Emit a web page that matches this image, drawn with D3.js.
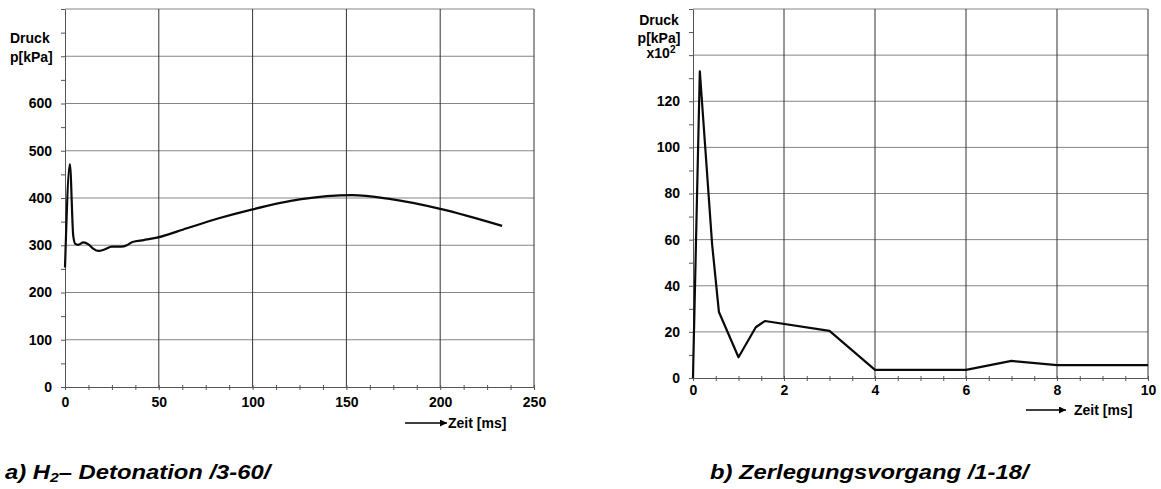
<!DOCTYPE html>
<html>
<head>
<meta charset="utf-8">
<script src="https://cdn.jsdelivr.net/npm/d3@7"></script>
<style>
  body { margin: 0; background: #fff; }
  svg text { font-family: "Liberation Sans", Arial, Helvetica, sans-serif; font-weight: bold; fill: #000; }
</style>
</head>
<body>
<svg id="chart" width="1161" height="489"></svg>
<script>
// ---- Panel a: H2 detonation, pressure in kPa over time in ms ----
const detTime     = [0, 2.6, 4.4, 5.5, 7, 9.8, 12.5, 15, 18, 21, 25, 30, 33, 36, 42, 49, 65, 82, 100, 125, 153, 173, 200, 233];
const detPressure = [253, 472, 320, 303, 301, 306, 302, 293, 288, 291, 297, 297, 300, 307, 311, 316, 336, 357, 376, 397, 406, 398, 377, 341];
const detXTicks   = [0, 50, 100, 150, 200, 250];
const detYTicks   = [0, 100, 200, 300, 400, 500, 600];
const detYGrid    = [100, 200, 300, 400, 500, 600, 700, 800];

// ---- Panel b: decomposition, pressure in kPa x10^2 over time in ms ----
const decTime     = [0, 0.01, 0.15, 0.42, 0.57, 1.0, 1.38, 1.58, 3.0, 4.0, 6.0, 7.0, 8.0, 10.0];
const decPressure = [0, 10, 133, 58, 28.6, 9, 22, 24.7, 20.4, 3.5, 3.5, 7.4, 5.6, 5.6];
const decXTicks   = [0, 2, 4, 6, 8, 10];
const decYTicks   = [0, 20, 40, 60, 80, 100, 120];
const decYGrid    = [20, 40, 60, 80, 100, 120, 140, 160];

const svg = d3.select("#chart");

function drawPanel(p) {
  const x = d3.scaleLinear().domain(p.xDomain).range(p.xRange);
  const y = d3.scaleLinear().domain(p.yDomain).range(p.yRange);
  const g = svg.append("g");

  // horizontal grid lines (lighter)
  g.append("g").selectAll("line").data(p.yGrid).join("line")
    .attr("x1", x(p.xDomain[0])).attr("x2", x(p.xDomain[1]))
    .attr("y1", d => y(d)).attr("y2", d => y(d))
    .attr("stroke", "#858585").attr("stroke-width", 1);

  // vertical grid lines (darker)
  g.append("g").selectAll("line").data(p.xTicks.slice(1)).join("line")
    .attr("x1", d => x(d)).attr("x2", d => x(d))
    .attr("y1", y(p.yDomain[0])).attr("y2", y(p.yDomain[1]))
    .attr("stroke", "#333").attr("stroke-width", 1);

  // minor ticks
  const minorX = d3.range(p.xDomain[0], p.xDomain[1] + 1e-9, p.xMinor);
  const minorY = d3.range(p.yDomain[0], p.yDomain[1] + 1e-9, p.yMinor);
  g.append("g").attr("transform", `translate(0,${y(p.yDomain[0]) - 2})`)
    .call(d3.axisBottom(x).tickValues(minorX).tickSize(5).tickFormat(""))
    .call(a => a.select(".domain").remove())
    .call(a => a.selectAll("line").attr("stroke", "#555"));
  g.append("g").attr("transform", `translate(${x(p.xDomain[0])},0)`)
    .call(d3.axisLeft(y).tickValues(minorY).tickSize(4).tickFormat(""))
    .call(a => a.select(".domain").remove())
    .call(a => a.selectAll("line").attr("stroke", "#555"));

  // axis lines and labels
  g.append("g").attr("transform", `translate(0,${y(p.yDomain[0])})`)
    .call(d3.axisBottom(x).tickValues(p.xTicks).tickSize(0).tickPadding(p.xPad).tickFormat(d3.format("d")))
    .call(a => a.select(".domain").attr("stroke", "#555"))
    .call(a => a.selectAll("text").attr("font-size", 14).attr("fill", "#000"));
  g.append("g").attr("transform", `translate(${x(p.xDomain[0])},0)`)
    .call(d3.axisLeft(y).tickValues(p.yTicks).tickSize(0).tickPadding(13).tickFormat(d3.format("d")))
    .call(a => a.select(".domain").attr("stroke", "#555"))
    .call(a => a.selectAll("text").attr("font-size", 14).attr("fill", "#000"));

  // pressure curve
  const line = d3.line().x(d => x(d[0])).y(d => y(d[1])).curve(p.curve);
  g.append("path")
    .datum(d3.zip(p.t, p.v))
    .attr("d", line)
    .attr("fill", "none").attr("stroke", "#0a0a0a")
    .attr("stroke-width", 2.2).attr("stroke-linejoin", "round");

  return { x, y };
}

drawPanel({
  t: detTime, v: detPressure,
  xDomain: [0, 250], xRange: [65, 534],
  yDomain: [0, 800], yRange: [387, 9],
  xTicks: detXTicks, yTicks: detYTicks, yGrid: detYGrid,
  xMinor: 12.5, yMinor: 50, xPad: 10,
  curve: d3.curveMonotoneX
});

drawPanel({
  t: decTime, v: decPressure,
  xDomain: [0, 10], xRange: [693, 1148],
  yDomain: [0, 160], yRange: [378, 9],
  xTicks: decXTicks, yTicks: decYTicks, yGrid: decYGrid,
  xMinor: 0.5, yMinor: 10, xPad: 7,
  curve: d3.curveLinear
});

// axis titles
function label(xp, yp, txt, anchor) {
  return svg.append("text").attr("x", xp).attr("y", yp).attr("font-size", 14)
    .attr("text-anchor", anchor || "start").text(txt);
}
label(10, 43, "Druck");
label(10, 62, "p[kPa]");
label(659, 25, "Druck", "middle");
label(659, 43, "p[kPa]", "middle");
const unit = label(661, 58, "x10", "middle");
unit.append("tspan").attr("font-size", 10).attr("baseline-shift", "5").text("2");

// time arrows
svg.append("defs").append("marker")
  .attr("id", "head").attr("viewBox", "0 0 10 10").attr("refX", 10).attr("refY", 5)
  .attr("markerWidth", 7).attr("markerHeight", 7).attr("markerUnits", "userSpaceOnUse")
  .attr("orient", "auto")
  .append("path").attr("d", "M0,0L10,5L0,10Z").attr("fill", "#000");

function timeArrow(x1, x2, yA, tx, ty) {
  svg.append("line").attr("x1", x1).attr("x2", x2).attr("y1", yA).attr("y2", yA)
    .attr("stroke", "#000").attr("stroke-width", 1.3).attr("marker-end", "url(#head)");
  label(tx, ty, "Zeit [ms]");
}
timeArrow(405, 447, 423, 448, 428);
timeArrow(1026, 1066, 410, 1074, 415);

// captions
function caption(xp, yp, parts) {
  const t = svg.append("text")
    .attr("transform", `translate(${xp},${yp}) scale(1.22,1)`)
    .attr("font-size", 19.5).attr("font-style", "italic");
  parts.forEach(p => {
    const s = t.append("tspan").text(p.s);
    if (p.sub) s.attr("font-size", 13).attr("baseline-shift", "-3");
  });
}
caption(5, 479, [{ s: "a)  H" }, { s: "2", sub: true }, { s: "– Detonation /3-60/" }]);
caption(710, 479, [{ s: "b) Zerlegungsvorgang /1-18/" }]);
</script>
</body>
</html>
